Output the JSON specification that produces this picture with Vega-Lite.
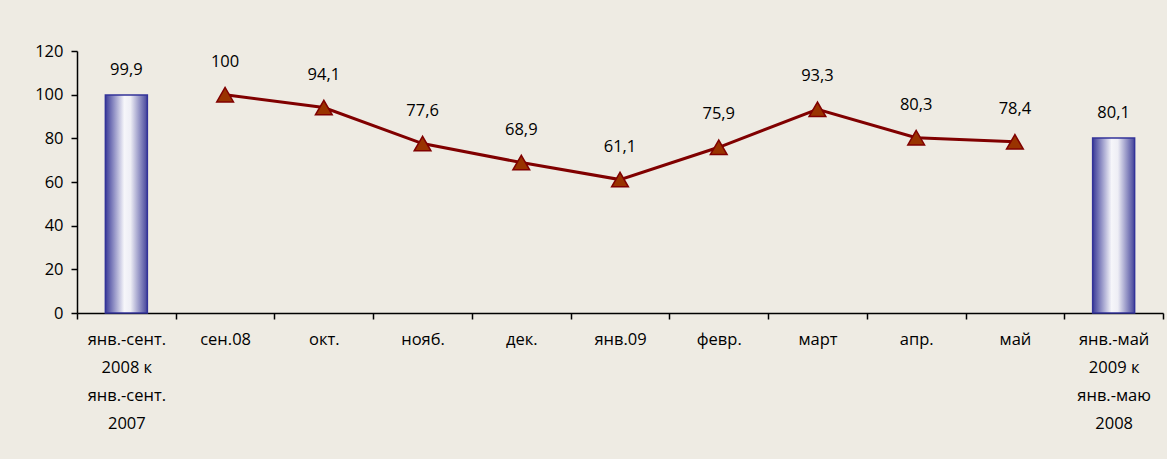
{
  "$schema": "https://vega.github.io/schema/vega-lite/v6.json",
  "width": 1086,
  "height": 262,
  "autosize": {"type": "none"},
  "padding": {"left": 77, "top": 51, "right": 4, "bottom": 146},
  "background": "#EEEBE3",
  "config": {
    "view": {"stroke": null},
    "font": "Open Sans",
    "locale": {"number": {"decimal": ",", "thousands": " ", "grouping": [3], "currency": ["", ""]}}
  },
  "data": {
    "values": [
      {"cat": "янв.-сент.|2008  к|янв.-сент.|2007", "bar": 99.9},
      {"cat": "сен.08", "line": 100},
      {"cat": "окт.", "line": 94.1},
      {"cat": "нояб.", "line": 77.6},
      {"cat": "дек.", "line": 68.9},
      {"cat": "янв.09", "line": 61.1},
      {"cat": "февр.", "line": 75.9},
      {"cat": "март", "line": 93.3},
      {"cat": "апр.", "line": 80.3},
      {"cat": "май", "line": 78.4},
      {"cat": "янв.-май|2009  к|янв.-маю|2008", "bar": 80.1}
    ]
  },
  "encoding": {
    "x": {
      "field": "cat", "type": "nominal", "title": null,
      "scale": {
        "domain": ["янв.-сент.|2008  к|янв.-сент.|2007", "сен.08", "окт.", "нояб.", "дек.", "янв.09", "февр.", "март", "апр.", "май", "янв.-май|2009  к|янв.-маю|2008"],
        "paddingInner": 0, "paddingOuter": 0
      },
      "axis": {
        "tickBand": "extent", "labelAngle": 0, "labelExpr": "split(datum.label, '|')",
        "labelLineHeight": 28, "labelFontSize": 16.5, "labelColor": "#000000",
        "labelPadding": 12, "tickSize": 6, "tickColor": "#000000", "domainColor": "#000000",
        "tickWidth": 1.5, "domainWidth": 1.5,
        "labelBaseline": "top", "labelFont": "Open Sans"
      }
    }
  },
  "layer": [
    {
      "transform": [{"filter": "isValid(datum.bar)"}],
      "mark": {
        "type": "bar", "width": 42, "stroke": "#333399", "strokeWidth": 1.5,
        "color": {
          "gradient": "linear", "x1": 0, "y1": 0, "x2": 1, "y2": 0,
          "stops": [
            {"offset": 0, "color": "#3A3A98"},
            {"offset": 0.45, "color": "#F6F6FA"},
            {"offset": 0.6, "color": "#EEEEF5"},
            {"offset": 1, "color": "#44449B"}
          ]
        }
      },
      "encoding": {
        "y": {
          "field": "bar", "type": "quantitative", "title": null,
          "scale": {"domain": [0, 120], "nice": false},
          "axis": {
            "values": [0, 20, 40, 60, 80, 100, 120], "grid": false, "labelFontSize": 16.5,
            "labelColor": "#000000", "tickColor": "#000000", "domainColor": "#000000",
            "tickWidth": 1.5, "domainWidth": 1.5,
            "tickSize": 6, "labelPadding": 8, "labelFont": "Open Sans"
          }
        }
      }
    },
    {
      "transform": [{"filter": "isValid(datum.bar)"}],
      "mark": {"type": "text", "dy": -25, "fontSize": 16.5, "color": "#000000", "baseline": "middle"},
      "encoding": {
        "y": {"field": "bar", "type": "quantitative"},
        "text": {"field": "bar", "type": "quantitative", "format": "~f"}
      }
    },
    {
      "transform": [{"filter": "isValid(datum.line)"}],
      "mark": {"type": "line", "color": "#800000", "strokeWidth": 3},
      "encoding": {"y": {"field": "line", "type": "quantitative"}}
    },
    {
      "transform": [{"filter": "isValid(datum.line)"}],
      "mark": {"type": "point", "shape": "triangle-up", "size": 280, "filled": true, "fill": "#993300", "stroke": "#800000", "strokeWidth": 1.5, "opacity": 1},
      "encoding": {"y": {"field": "line", "type": "quantitative"}}
    },
    {
      "transform": [{"filter": "isValid(datum.line)"}],
      "mark": {"type": "text", "dy": -33, "fontSize": 16.5, "color": "#000000", "baseline": "middle"},
      "encoding": {
        "y": {"field": "line", "type": "quantitative"},
        "text": {"field": "line", "type": "quantitative", "format": "~f"}
      }
    }
  ]
}
